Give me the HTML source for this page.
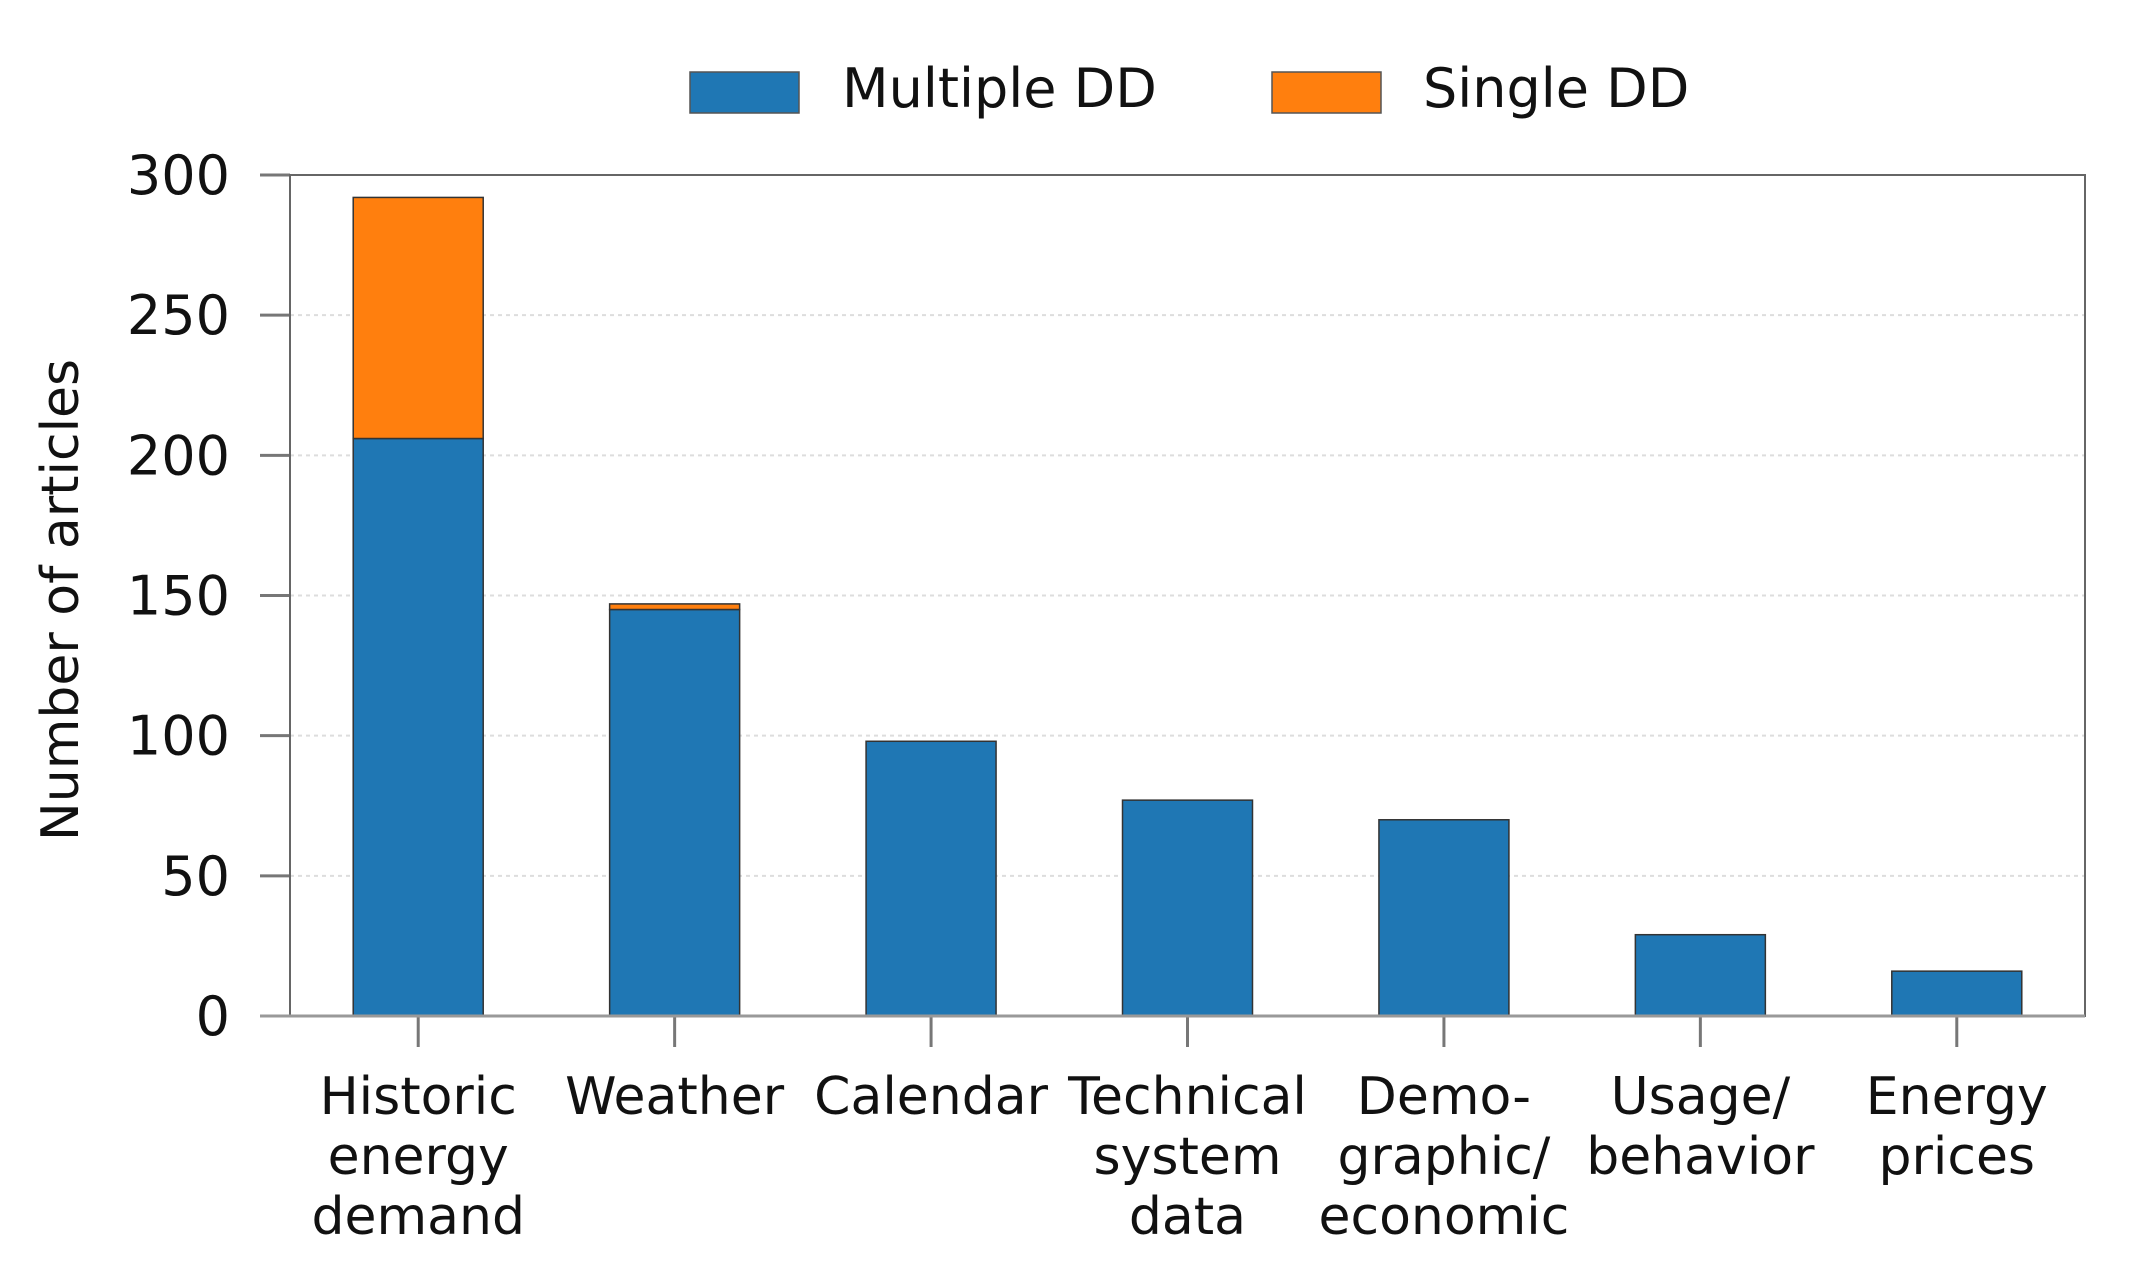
<!DOCTYPE html>
<html><head><meta charset="utf-8"><style>
html,body{margin:0;padding:0;background:#fff}
svg{display:block;font-family:"DejaVu Sans","Liberation Sans",sans-serif}
</style></head><body>
<svg id="chart" width="2137" height="1264" viewBox="0 0 2137 1264">
<g>
<rect x="690" y="72" width="109" height="41" fill="#1f77b4" stroke="#555" stroke-width="1.5"/>
<text x="842" y="107" font-size="54" fill="#111">Multiple DD</text>
<rect x="1272" y="72" width="109" height="41" fill="#ff7f0e" stroke="#555" stroke-width="1.5"/>
<text x="1423" y="107" font-size="54" fill="#111">Single DD</text>
</g>
<g id="plot"></g>
<text transform="translate(78,600) rotate(-90)" text-anchor="middle" font-size="52" fill="#111">Number of articles</text>
</svg>
<script>
const categories = [["Historic","energy","demand"],["Weather"],["Calendar"],["Technical","system","data"],["Demo-","graphic/","economic"],["Usage/","behavior"],["Energy","prices"]];
const multipleValues = [206,145,98,77,70,29,16];
const singleValues = [86,2,0,0,0,0,0];
const yTicks = [0,50,100,150,200,250,300];

const L=290,R=2085,T=175,B=1016,yMax=300;
const y=v=>B-(v/yMax)*(B-T);
const step=(R-L)/categories.length;
const xc=i=>L+step*(i+0.5);
const bw=130;
const g=document.getElementById('plot');
const NS='http://www.w3.org/2000/svg';
function mk(t,a){const e=document.createElementNS(NS,t);for(const k in a)e.setAttribute(k,a[k]);g.appendChild(e);return e;}

yTicks.forEach(v=>{
  if(v>0&&v<yMax){
    const gl=mk('line',{x1:L,x2:R,y1:y(v),y2:y(v),stroke:'#ddd','stroke-width':2,'stroke-dasharray':'4 4'});
    
    
  }
  const tk=mk('line',{x1:260,x2:L,y1:y(v),y2:y(v),stroke:'#777','stroke-width':3});
  
  
  const tl=mk('text',{x:230,y:y(v)+19,'text-anchor':'end','font-size':54,fill:'#111'});
  tl.textContent=v;
  
  
});

categories.forEach((c,i)=>{
  const cx=xc(i);
  const m=mk('rect',{x:cx-bw/2,y:y(multipleValues[i]),width:bw,height:B-y(multipleValues[i]),fill:'#1f77b4',stroke:'#333','stroke-width':1.5});
  
  
  if(singleValues[i]>0){
    const top=multipleValues[i]+singleValues[i];
    const s=mk('rect',{x:cx-bw/2,y:y(top),width:bw,height:y(multipleValues[i])-y(top),fill:'#ff7f0e',stroke:'#333','stroke-width':1.5});
    
    
  }
  const tk=mk('line',{x1:cx,x2:cx,y1:B,y2:B+31,stroke:'#777','stroke-width':3});
  
  
  c.forEach((line,j)=>{
    const t=mk('text',{x:cx,y:1114+j*60,'text-anchor':'middle','font-size':52,fill:'#111'});
    t.textContent=line;
    
    
  });
});

const frame=mk('rect',{x:L,y:T,width:R-L,height:B-T,fill:'none',stroke:'#666','stroke-width':2});


const base=mk('line',{x1:260,x2:R,y1:B,y2:B,stroke:'#999','stroke-width':3});


</script>
</body></html>
